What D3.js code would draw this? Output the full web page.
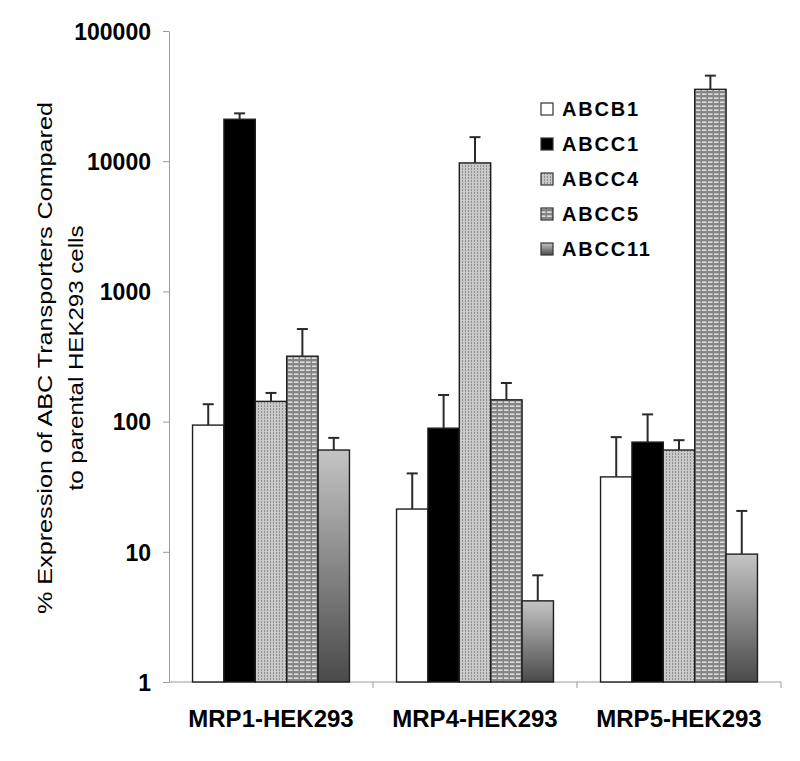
<!DOCTYPE html>
<html>
<head>
<title>ABC transporter expression</title>
<script src="https://cdn.jsdelivr.net/npm/d3@7"></script>
<style type="text/css">
body { margin: 0; background: #fff; }
svg text { font-family: "Liberation Sans", Arial, sans-serif; fill: #000; }
.axis path, .axis line { stroke: #9a9a9a; }
</style>
</head>
<body>
<svg id="chart" width="800" height="761"></svg>
<script type="text/javascript">
// cell lines on the x axis
var cellLines = ["MRP1-HEK293", "MRP4-HEK293", "MRP5-HEK293"];
var transporters = ["ABCB1", "ABCC1", "ABCC4", "ABCC5", "ABCC11"];

// % expression vs parental cells, one array per transporter (order = cellLines)
var abcb1  = [94, 21.3, 37.6];
var abcc1  = [21000, 89, 69.6];
var abcc4  = [143, 9700, 60.5];
var abcc5  = [318, 147, 35650];
var abcc11 = [60.5, 4.2, 9.6];

// upper error bar size
var abcb1Err  = [42, 18.7, 38.4];
var abcc1Err  = [2300, 71, 44];
var abcc4Err  = [23, 5600, 11.5];
var abcc5Err  = [196, 51, 9750];
var abcc11Err = [14.5, 2.4, 11];

var yTicks = [1, 10, 100, 1000, 10000, 100000];

var values = [abcb1, abcc1, abcc4, abcc5, abcc11];
var errors = [abcb1Err, abcc1Err, abcc4Err, abcc5Err, abcc11Err];

var svg = d3.select("#chart");
var defs = svg.append("defs");

/* fills: plain, black, stipple, stripes, gradient */
var p4 = defs.append("pattern").attr("id", "pat4").attr("patternUnits", "userSpaceOnUse")
  .attr("width", 3).attr("height", 3);
p4.append("rect").attr("width", 3).attr("height", 3).attr("fill", "#c9c9c9");
p4.append("rect").attr("x", 0).attr("y", 0).attr("width", 1).attr("height", 2).attr("fill", "#8f8f8f");

var p5 = defs.append("pattern").attr("id", "pat5").attr("patternUnits", "userSpaceOnUse")
  .attr("width", 6).attr("height", 4);
p5.append("rect").attr("width", 6).attr("height", 4).attr("fill", "#858585");
p5.append("rect").attr("x", 0).attr("y", 1.5).attr("width", 4.5).attr("height", 1.3).attr("fill", "#f4f4f4");

var g11 = defs.append("linearGradient").attr("id", "grad11")
  .attr("x1", 0).attr("y1", 0).attr("x2", 0).attr("y2", 1);
g11.append("stop").attr("offset", "0%").attr("stop-color", "#c4c4c4");
g11.append("stop").attr("offset", "100%").attr("stop-color", "#4a4a4a");

var fills = ["#ffffff", "#000000", "url(#pat4)", "url(#pat5)", "url(#grad11)"];

var y = d3.scaleLog().domain([1, 100000]).range([682, 31]);
var x0 = d3.scaleBand().domain(cellLines).range([169, 781]);
var x1 = d3.scaleBand().domain(transporters).range([0, x0.bandwidth()])
  .paddingInner(0).paddingOuter(0.75);

/* y axis */
var yAxis = svg.append("g").attr("class", "axis").attr("transform", "translate(169,0)")
  .call(d3.axisLeft(y).tickValues(yTicks).tickFormat(d3.format("d")).tickSize(6).tickSizeOuter(0).tickPadding(12));
yAxis.selectAll("text").style("font-size", "23px").style("font-weight", "bold").attr("dy", "0.36em");

/* x axis with ticks between groups */
var xAxis = svg.append("g").attr("class", "axis").attr("transform", "translate(0,682)");
xAxis.append("line").attr("x1", 169).attr("x2", 781).attr("y1", 0).attr("y2", 0);
xAxis.selectAll("line.tk").data(cellLines).enter().append("line").attr("class", "tk")
  .attr("x1", function(d) { return x0(d) + x0.bandwidth(); })
  .attr("x2", function(d) { return x0(d) + x0.bandwidth(); })
  .attr("y1", 0).attr("y2", 6);
xAxis.selectAll("text").data(cellLines).enter().append("text")
  .attr("x", function(d) { return x0(d) + x0.bandwidth() / 2; })
  .attr("y", 45)
  .attr("text-anchor", "middle")
  .style("font-size", "24px").style("font-weight", "bold")
  .text(function(d) { return d; });

/* bars */
var rows = [];
transporters.forEach(function(t, i) {
  cellLines.forEach(function(c, j) {
    rows.push({t: t, c: c, i: i, v: values[i][j], e: errors[i][j]});
  });
});

var bars = svg.append("g");
bars.selectAll("rect").data(rows).enter().append("rect")
  .attr("x", function(d) { return x0(d.c) + x1(d.t); })
  .attr("y", function(d) { return y(d.v); })
  .attr("width", x1.bandwidth())
  .attr("height", function(d) { return y(1) - y(d.v); })
  .attr("fill", function(d) { return fills[d.i]; })
  .attr("stroke", "#1e1e1e").attr("stroke-width", 1.4);

/* error bars (upper only) */
var eb = svg.append("g").attr("stroke", "#2a2a2a").attr("stroke-width", 2);
eb.selectAll("line.v").data(rows).enter().append("line").attr("class", "v")
  .attr("x1", function(d) { return x0(d.c) + x1(d.t) + x1.bandwidth() / 2; })
  .attr("x2", function(d) { return x0(d.c) + x1(d.t) + x1.bandwidth() / 2; })
  .attr("y1", function(d) { return y(d.v); })
  .attr("y2", function(d) { return y(d.v + d.e); });
eb.selectAll("line.cap").data(rows).enter().append("line").attr("class", "cap")
  .attr("x1", function(d) { return x0(d.c) + x1(d.t) + x1.bandwidth() / 2 - 5.5; })
  .attr("x2", function(d) { return x0(d.c) + x1(d.t) + x1.bandwidth() / 2 + 5.5; })
  .attr("y1", function(d) { return y(d.v + d.e); })
  .attr("y2", function(d) { return y(d.v + d.e); });

/* y axis title */
var title = svg.append("g").attr("transform", "translate(0,358) rotate(-90)");
title.append("text").attr("x", 0).attr("y", 52).attr("text-anchor", "middle")
  .attr("textLength", 512).attr("lengthAdjust", "spacingAndGlyphs")
  .style("font-size", "21px")
  .text("% Expression of ABC Transporters Compared");
title.append("text").attr("x", 0).attr("y", 83).attr("text-anchor", "middle")
  .attr("textLength", 265).attr("lengthAdjust", "spacingAndGlyphs")
  .style("font-size", "21px")
  .text("to parental HEK293 cells");

/* legend */
var leg = svg.append("g").attr("transform", "translate(541,109)");
var li = leg.selectAll("g").data(transporters).enter().append("g")
  .attr("transform", function(d, i) { return "translate(0," + (i * 35) + ")"; });
li.append("rect").attr("x", 0).attr("y", -6).attr("width", 12).attr("height", 12)
  .attr("fill", function(d, i) { return fills[i]; })
  .attr("stroke", "#333").attr("stroke-width", 1.2);
li.append("text").attr("x", 21).attr("y", 0).attr("dy", "0.36em")
  .style("font-size", "20px").style("font-weight", "bold").style("letter-spacing", "1.8px")
  .text(function(d) { return d; });
</script>
</body>
</html>
